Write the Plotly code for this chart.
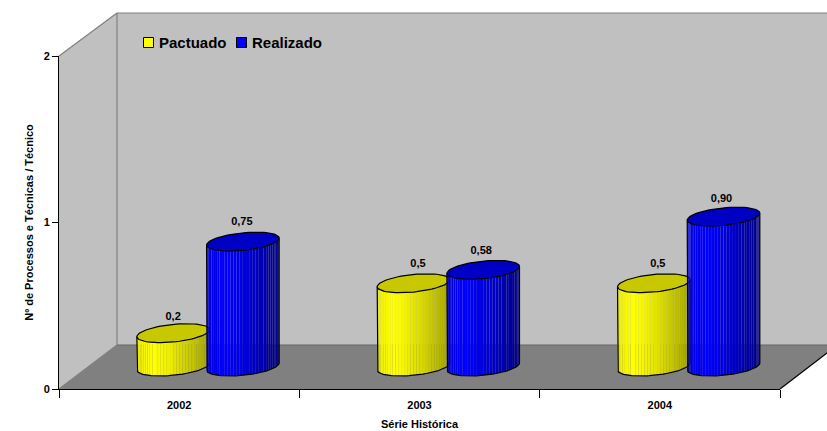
import math
import plotly.graph_objects as go

# ---- data ----
categories = ["2002", "2003", "2004"]
pactuado = [0.2, 0.5, 0.5]
realizado = [0.75, 0.58, 0.90]
pactuado_labels = ["0,2", "0,5", "0,5"]
realizado_labels = ["0,75", "0,58", "0,90"]
y_ticks = [0, 1, 2]

# ---- figure geometry (pixels) ----
W, H = 827, 431
L, R, T, B = 59, 47, 56, 42
PX_PER_CAT = (W - L - R) / len(categories)
PX_PER_UNIT = (H - T - B) / y_ticks[-1]
FONT = "Liberation Sans, Arial, sans-serif"


def dx(px):
    return px / PX_PER_CAT


def dy(px):
    return px / PX_PER_UNIT


def paper_x(px):
    return (px - L) / (W - L - R)


def paper_y(py):
    return (H - B - py) / (H - T - B)


def poly(points):
    return "M" + " L".join(f"{paper_x(x):.5f},{paper_y(y):.5f}" for x, y in points) + " Z"


# ---- cylinder geometry in data units ----
BASE = dy(389 - 366.5)
HALF_W = dx(36.3)
TILT = dy(3.5)
ELL = dy(8.8)
OFFSET = {"Pactuado": 0.475, "Realizado": 0.765}
N_FACETS = 36
# small label nudges in pixels (right, up), per category
NUDGE = {"Pactuado": [(0, 0), (4.5, 4), (4, 4)], "Realizado": [(-1, 4), (-2, 3), (-2, 2)]}


def mix(c1, c2, f):
    return tuple(c1[i] + (c2[i] - c1[i]) * f for i in range(3))


def shade(u, left, peak, right):
    c = mix(left, peak, u / 0.22) if u < 0.22 else mix(peak, right, ((u - 0.22) / 0.78) ** 1.3)
    return "rgb({},{},{})".format(*[round(v) for v in c])


def rim(cx, h, t):
    return cx + HALF_W * math.cos(t), h + TILT * math.cos(t) - ELL * math.sin(t)


STYLE = {
    "Pactuado": dict(left=(238, 238, 0), peak=(255, 255, 0), right=(160, 160, 0), top="#C8C800"),
    "Realizado": dict(left=(0, 0, 215), peak=(0, 0, 255), right=(0, 0, 130), top="#0000C4"),
}

fig = go.Figure()

# category axis carrier
fig.add_trace(go.Scatter(x=categories, y=[0, 0, 0], mode="markers", marker=dict(opacity=0),
                         showlegend=False, hoverinfo="skip", xaxis="x", yaxis="y"))


def cylinder(name, i, value):
    st = STYLE[name]
    cx = i + OFFSET[name]
    h0, h1 = BASE, BASE + value
    for k in range(N_FACETS):
        t0 = math.pi - math.pi * k / N_FACETS
        t1 = math.pi - math.pi * (k + 1) / N_FACETS
        a0, b0 = rim(cx, h0, t0)
        a1, b1 = rim(cx, h0, t1)
        c1, d1 = rim(cx, h1, t1)
        c0, d0 = rim(cx, h1, t0)
        u = (a0 + a1) / 2
        u = (u - (cx - HALF_W)) / (2 * HALF_W)
        fig.add_trace(go.Scatter(
            x=[a0, a1, c1, c0, a0], y=[b0, b1, d1, d0, b0], mode="lines", fill="toself",
            fillcolor=shade(u, st["left"], st["peak"], st["right"]), line=dict(width=0),
            showlegend=False, hoverinfo="skip", xaxis="x2", yaxis="y"))
    ts = [2 * math.pi * j / 72 for j in range(73)]
    tx, ty = zip(*[rim(cx, h1, t) for t in ts])
    fig.add_trace(go.Scatter(x=tx, y=ty, mode="lines", fill="toself", fillcolor=st["top"],
                             line=dict(color="#000", width=1.2), showlegend=False,
                             name=name, hovertemplate=f"{categories[i]} {name}: {value}<extra></extra>",
                             xaxis="x2", yaxis="y"))
    arc = [math.pi - math.pi * j / 48 for j in range(49)]
    sx = [rim(cx, h1, math.pi)[0]] + [rim(cx, h0, t)[0] for t in arc] + [rim(cx, h1, 0)[0]]
    sy = [rim(cx, h1, math.pi)[1]] + [rim(cx, h0, t)[1] for t in arc] + [rim(cx, h1, 0)[1]]
    fig.add_trace(go.Scatter(x=sx, y=sy, mode="lines", line=dict(color="#000", width=1.2),
                             showlegend=False, hoverinfo="skip", xaxis="x2", yaxis="y"))


for i in range(len(categories)):
    cylinder("Pactuado", i, pactuado[i])
    cylinder("Realizado", i, realizado[i])

LABEL_LIFT = dy(10)
for name, vals, labels in (("Pactuado", pactuado, pactuado_labels),
                           ("Realizado", realizado, realizado_labels)):
    fig.add_trace(go.Scatter(
        x=[i + OFFSET[name] + dx(NUDGE[name][i][0]) for i in range(len(vals))],
        y=[BASE + v + LABEL_LIFT + dy(NUDGE[name][i][1]) for i, v in enumerate(vals)],
        mode="text", text=labels, textposition="top center",
        textfont=dict(family=FONT, size=11, color="#000", weight="bold"),
        showlegend=False, hoverinfo="skip", xaxis="x2", yaxis="y", cliponaxis=False))

# ---- 3D box and legend ----
GREY = "#808080"
shapes = [
    dict(type="path", path=poly([(117, 13), (W, 13), (W, 345), (117, 345)]), fillcolor="#C0C0C0",
         line=dict(width=0), layer="below", xref="paper", yref="paper"),
    dict(type="path", path=poly([(59, 56), (117, 13), (117, 345), (59, 389)]), fillcolor="#C0C0C0",
         line=dict(width=0), layer="below", xref="paper", yref="paper"),
    dict(type="path", path=poly([(59, 389), (117, 345), (W, 345), (W, 353), (780, 389)]), fillcolor=GREY,
         line=dict(width=0), layer="below", xref="paper", yref="paper"),
]
for (x0, y0, x1, y1, col, wd) in [
    (59, 56, 117, 13, GREY, 1.2), (117, 13, W, 13, GREY, 1.2), (117, 13, 117, 345, GREY, 1.2),
    (59, 389, 117, 345, GREY, 1.2), (117, 345, W, 345, "#666666", 1.2), (780, 389, W, 353, "#000", 1.2),
]:
    shapes.append(dict(type="line", x0=paper_x(x0), y0=paper_y(y0), x1=paper_x(x1), y1=paper_y(y1),
                       xref="paper", yref="paper", line=dict(color=col, width=wd), layer="below"))

annotations = []
for name, col, sx, tx in (("Pactuado", "#FFFF00", 143.5, 158), ("Realizado", "#0000FF", 236.5, 250.5)):
    shapes.append(dict(type="rect", x0=paper_x(sx), x1=paper_x(sx + 10), y0=paper_y(37.5), y1=paper_y(47.5),
                       xref="paper", yref="paper", fillcolor=col, line=dict(color="#000", width=1)))
    annotations.append(dict(text=f"<b>{name}</b>", x=paper_x(tx), y=paper_y(42.5), xref="paper", yref="paper",
                            xanchor="left", yanchor="middle", showarrow=False, xshift=-1,
                            font=dict(family=FONT, size=15, color="#000")))

fig.update_layout(
    width=W, height=H, margin=dict(l=L, r=R, t=T, b=B, autoexpand=False),
    paper_bgcolor="#fff", plot_bgcolor="rgba(0,0,0,0)", showlegend=False,
    shapes=shapes, annotations=annotations,
    font=dict(family=FONT, size=11, color="#000"),
    xaxis=dict(type="category", categoryorder="array", categoryarray=categories, range=[-0.5, 2.5],
               tickson="boundaries", ticks="outside", ticklen=8, tickwidth=1, tickcolor="#000", dtick=1,
               showgrid=False, zeroline=False, showline=True, linecolor="#000", linewidth=1, automargin=False,
               ticklabelstandoff=6,
               tickfont=dict(family=FONT, size=11, color="#000", weight="bold"),
               title=dict(text="<b>Série Histórica</b>", font=dict(family=FONT, size=11, color="#000"), standoff=10)),
    xaxis2=dict(overlaying="x", range=[0, 3], visible=False, showgrid=False, zeroline=False),
    yaxis=dict(range=[0, 2], tickvals=y_ticks, ticktext=[str(v) for v in y_ticks], ticks="outside", ticklen=6,
               tickwidth=1, tickcolor="#000", showgrid=False, zeroline=False, showline=True, linecolor="#000",
               linewidth=1, automargin=False,
               tickfont=dict(family=FONT, size=11, color="#000", weight="bold"),
               title=dict(text="<b>Nº de Processos e Técnicas / Técnico</b>",
                          font=dict(family=FONT, size=11, color="#000"), standoff=7)),
)

fig.write_html("out.html", config=dict(displayModeBar=False),
               post_script="document.body.style.margin='0';document.body.style.overflow='hidden';")
